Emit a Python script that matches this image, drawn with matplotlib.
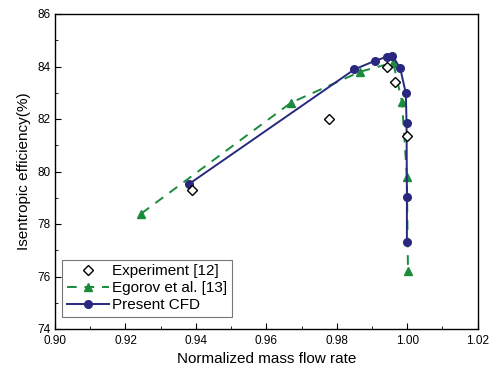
import matplotlib
matplotlib.use("Agg")
import matplotlib.pyplot as plt
from matplotlib.ticker import MultipleLocator, FormatStrFormatter

plt.rcParams['font.family'] = ['Liberation Sans', 'DejaVu Sans']

exp_x = [0.9389, 0.9778, 0.9942, 0.9964, 0.9999]
exp_y = [79.30, 82.00, 83.99, 83.40, 81.35]

ego_x = [0.9245, 0.9670, 0.9866, 0.9960, 0.9985, 0.9999, 1.0002]
ego_y = [78.40, 82.62, 83.80, 84.15, 82.66, 79.80, 76.22]

cfd_x = [0.9380, 0.9850, 0.9909, 0.9942, 0.9958, 0.9980, 0.9996, 0.9998, 0.9999, 0.9999]
cfd_y = [79.52, 83.89, 84.22, 84.37, 84.41, 83.93, 82.98, 81.84, 79.04, 77.33]

fig = plt.figure(figsize=(4.94, 3.73), dpi=100)
L, R, T, B = 55, 477.7, 14, 329
ax = fig.add_axes([L/494, 1-B/373, (R-L)/494, (B-T)/373])

navy = '#27287e'
green = '#1b8a3c'

ax.plot(exp_x, exp_y, linestyle='none', marker='D', markersize=5.5,
        markerfacecolor='white', markeredgecolor='black', markeredgewidth=1.0,
        label='Experiment [12]', zorder=4)
ax.plot(ego_x, ego_y, linestyle=(0, (5, 4)), color=green, linewidth=1.4,
        marker='^', markersize=6, markerfacecolor=green, markeredgecolor=green,
        label='Egorov et al. [13]', zorder=2)
ax.plot(cfd_x, cfd_y, linestyle='-', color=navy, linewidth=1.4,
        marker='o', markersize=5.5, markerfacecolor=navy, markeredgecolor=navy,
        label='Present CFD', zorder=3)

ax.set_xlim(0.90, 1.02)
ax.set_ylim(74, 86)
ax.xaxis.set_major_locator(MultipleLocator(0.02))
ax.xaxis.set_minor_locator(MultipleLocator(0.01))
ax.yaxis.set_major_locator(MultipleLocator(2))
ax.yaxis.set_minor_locator(MultipleLocator(1))
ax.xaxis.set_major_formatter(FormatStrFormatter('%.2f'))
ax.tick_params(which='both', direction='in', top=False, right=False, labelsize=8.5)
ax.tick_params(axis='x', pad=4)
ax.tick_params(axis='y', pad=3)
ax.tick_params(which='major', length=4)
ax.tick_params(which='minor', length=2)
for s in ax.spines.values():
    s.set_linewidth(1.0)

ax.set_xlabel('Normalized mass flow rate', fontsize=11, labelpad=4)
ax.set_ylabel('Isentropic efficiency(%)', fontsize=11, labelpad=5)

leg = ax.legend(loc='lower left', bbox_to_anchor=(0.0166, 0.038), fontsize=11,
                frameon=True, fancybox=False, edgecolor='#555555',
                handlelength=2.8, handletextpad=0.2, borderpad=0.3,
                labelspacing=0.2, borderaxespad=0.0)
leg.get_frame().set_linewidth(0.8)

fig.savefig('out.png', dpi=100)
